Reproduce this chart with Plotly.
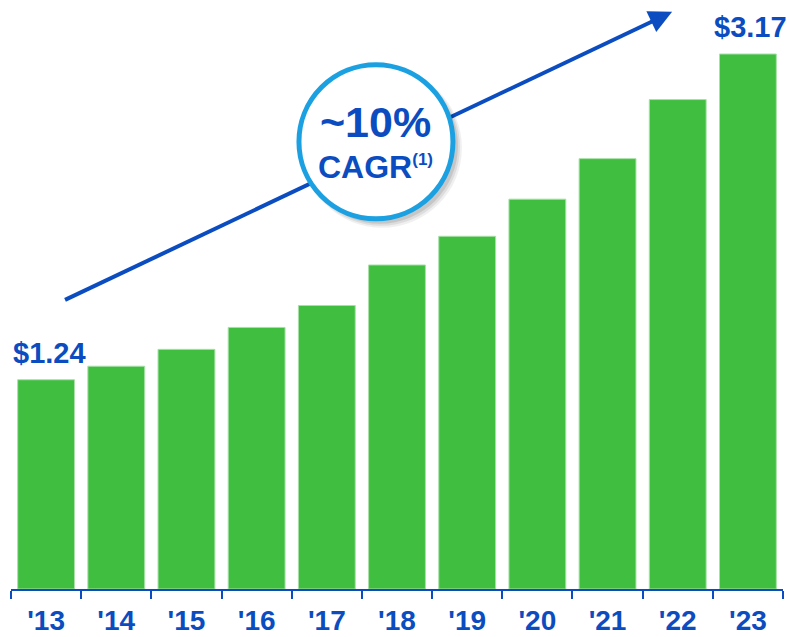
import plotly.graph_objects as go

years = ["'13", "'14", "'15", "'16", "'17", "'18", "'19", "'20", "'21", "'22", "'23"]
values = [1.24, 1.32, 1.42, 1.55, 1.68, 1.92, 2.09, 2.31, 2.55, 2.90, 3.17]
cagr_text = "~10%"
cagr_label = "CAGR"
cagr_note = "(1)"

BLUE = "#0B4DC0"
GREEN = "#40BE40"
RING = "#1BA1E2"
FONT = "Liberation Sans, Arial, sans-serif"

fig = go.Figure()
fig.add_trace(go.Bar(
    x=years, y=values,
    marker=dict(color=GREEN, line=dict(color="#A8E0A8", width=1)),
    hoverinfo="skip",
))

# trend arrow (line + head)
fig.add_shape(type="line", xref="x", yref="y",
              x0=0.27, y0=1.713, x1=8.80, y1=3.395,
              line=dict(color=BLUE, width=4))
fig.add_annotation(x=8.92, y=3.42, xref="x", yref="y", text="",
                   showarrow=True, arrowhead=2, arrowsize=1.15, arrowwidth=4,
                   arrowcolor=BLUE, ax=-22.6, ay=10.7, standoff=0)

# circle badge with shadow
cx, cy = 4.70, 2.65
for off, r, a in [(6, 80, 0.06), (5, 79, 0.08), (4, 78, 0.10)]:
    fig.add_shape(type="circle", xref="x", yref="y",
                  xsizemode="pixel", ysizemode="pixel",
                  xanchor=cx, yanchor=cy,
                  x0=-r + off, x1=r + off, y0=-r - off, y1=r - off,
                  fillcolor=f"rgba(0,0,0,{a})", line=dict(width=0))
fig.add_shape(type="circle", xref="x", yref="y",
              xsizemode="pixel", ysizemode="pixel",
              xanchor=cx, yanchor=cy, x0=-77, x1=77, y0=-77, y1=77,
              fillcolor="white", line=dict(color=RING, width=5))

fig.add_annotation(x=cx, y=cy, xref="x", yref="y", yshift=20, showarrow=False,
                   text=f"<b>{cagr_text}</b>",
                   font=dict(family=FONT, size=43, color=BLUE))
fig.add_annotation(x=cx, y=cy, xref="x", yref="y", yshift=-25, showarrow=False,
                   text=f"<b>{cagr_label}<sup><span style='font-size:17px'>{cagr_note}</span></sup></b>",
                   font=dict(family=FONT, size=32, color=BLUE))

# end value labels
for i in (0, len(years) - 1):
    fig.add_annotation(x=years[i], y=values[i], xref="x", yref="y",
                       yanchor="bottom", yshift=9, xshift=3,
                       showarrow=False, text=f"<b>${values[i]:.2f}</b>",
                       font=dict(family=FONT, size=29, color=BLUE))

fig.update_layout(
    width=790, height=637,
    margin=dict(l=11, r=7, t=0, b=48),
    plot_bgcolor="white", paper_bgcolor="white",
    bargap=0.19, showlegend=False,
    xaxis=dict(range=[-0.5, len(years) - 0.5], autorange=False,
               showline=True, linecolor=BLUE, linewidth=2,
               ticks="outside", tickson="boundaries", ticklen=8,
               tickwidth=2, tickcolor=BLUE, showgrid=False, automargin=False,
               ticklabelstandoff=5,
               tickfont=dict(family=FONT, size=28, color=BLUE),
               tickprefix="<b>", ticksuffix="</b>"),
    yaxis=dict(range=[0, 3.49], autorange=False, visible=False,
               showgrid=False, zeroline=False),
)

fig.write_html("out.html", config={"displayModeBar": False},
               post_script="document.body.style.margin='0';document.body.style.overflow='hidden';")
